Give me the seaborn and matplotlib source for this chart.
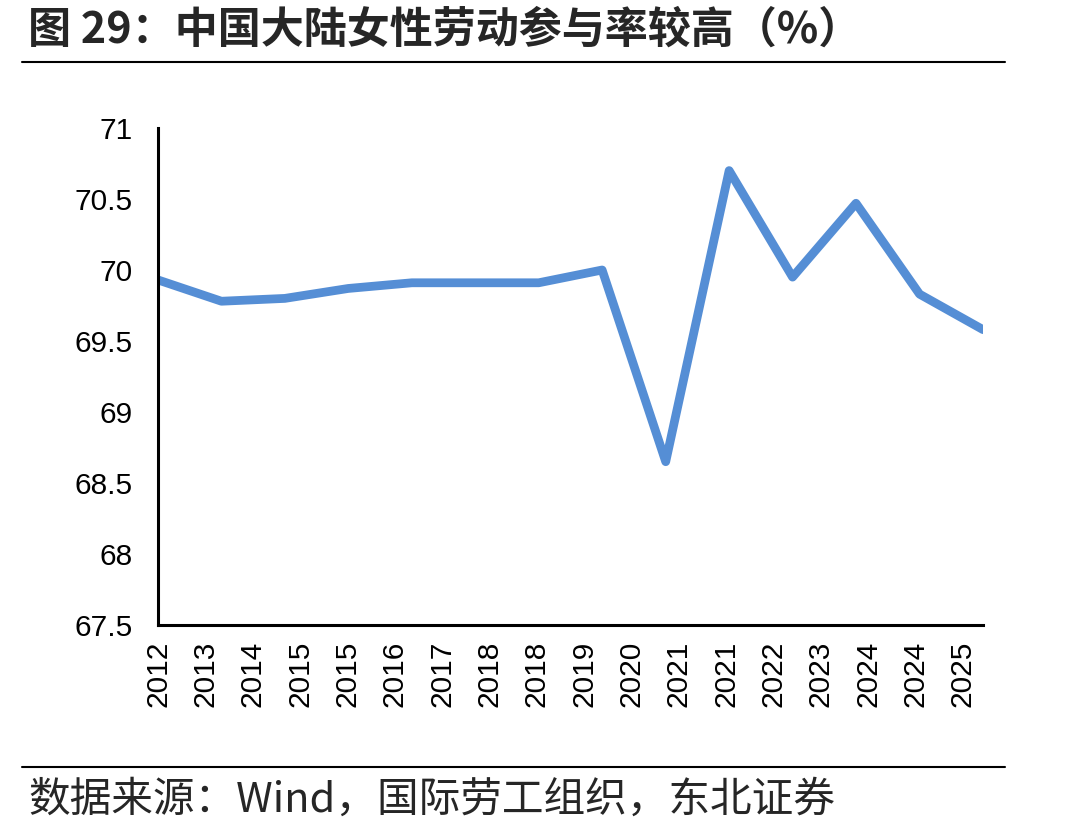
import matplotlib
matplotlib.use("Agg")
import matplotlib.pyplot as plt
import matplotlib.dates as mdates
from matplotlib.lines import Line2D
import seaborn as sns
import pandas as pd
import numpy as np

# ---- data ----
years = list(range(2012, 2026))
values = [69.93, 69.78, 69.80, 69.87, 69.91, 69.91, 69.91, 70.00,
          68.65, 70.70, 69.95, 70.47, 69.83, 69.58]
y_ticks = [67.5, 68, 68.5, 69, 69.5, 70, 70.5, 71]
y_tick_labels = ["67.5", "68", "68.5", "69", "69.5", "70", "70.5", "71"]
title = "图 29：中国大陆女性劳动参与率较高（%）"
source = "数据来源：Wind，国际劳工组织，东北证券"

df = pd.DataFrame({"date": pd.to_datetime([f"{y}-12-31" for y in years]),
                   "value": values})

sns.set_theme(style="white")
plt.rcParams["font.family"] = ["Liberation Sans", "DejaVu Sans"]

fig = plt.figure(figsize=(10.9, 8.32), dpi=100)
ax = fig.add_axes([158/1090, 1 - 625/832, (983-158)/1090, (625-128)/832])

sns.lineplot(data=df, x="date", y="value", ax=ax, color="#558ED5",
             linewidth=6.3, solid_joinstyle="round", solid_capstyle="round")

ax.set_xlim(df["date"].iloc[0], df["date"].iloc[-1])
ax.set_ylim(67.5, 71)
ax.set_yticks(y_ticks)
ax.set_yticklabels(y_tick_labels)

xt = pd.date_range(df["date"].iloc[0], periods=18, freq=pd.Timedelta(days=272.5))
ax.set_xticks(xt)
ax.xaxis.set_major_formatter(mdates.DateFormatter("%Y"))
ax.set_xlabel("")
ax.set_ylabel("")

for s in ["top", "right"]:
    ax.spines[s].set_visible(False)
for s in ["left", "bottom"]:
    ax.spines[s].set_color("black")
    ax.spines[s].set_linewidth(2.2)

ax.tick_params(axis="both", direction="in", length=7, width=2, color="black",
               labelsize=21.5, labelcolor="black")
ax.tick_params(axis="x", rotation=90, pad=11)
ax.tick_params(axis="y", pad=18)
ax.grid(False)

# title & rules & source
fig.text(28/1090, 1 - 30/832, title, fontsize=31, fontweight="bold",
         family=["Noto Sans CJK SC", "DejaVu Sans"], va="center", ha="left")
fig.add_artist(Line2D([22/1090, 1005/1090], [1 - 62/832]*2,
                      transform=fig.transFigure, color="black", lw=1.5))
fig.add_artist(Line2D([22/1090, 1005/1090], [1 - 767/832]*2,
                      transform=fig.transFigure, color="black", lw=1.5))
fig.text(28/1090, 1 - 800/832, source, fontsize=30,
         family=["Noto Sans CJK SC", "DejaVu Sans"], va="center", ha="left")

fig.savefig("out.png", dpi=100, facecolor="white")
